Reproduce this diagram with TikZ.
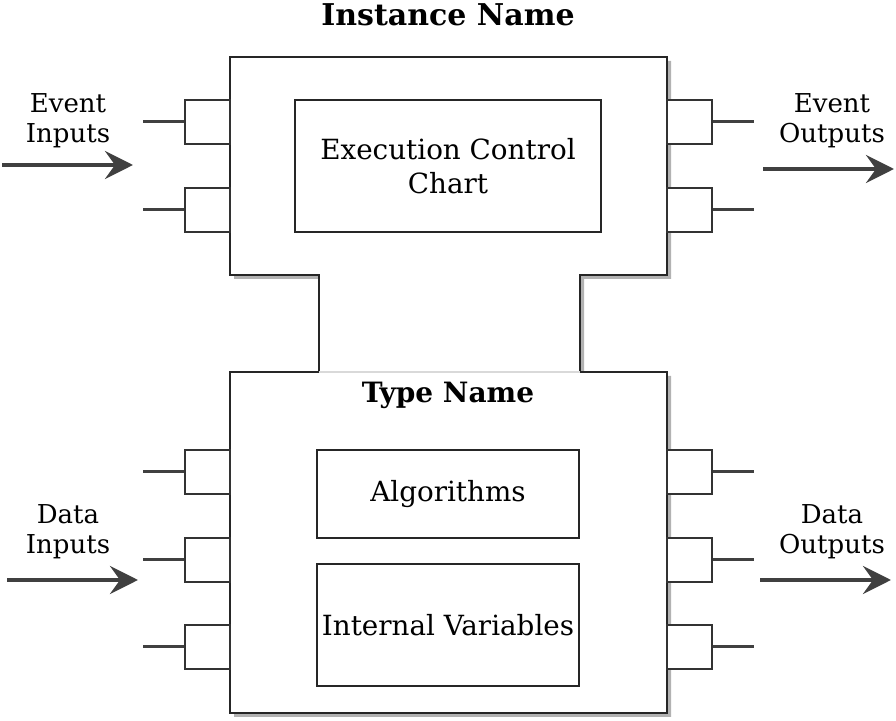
\documentclass[tikz,border=0pt]{standalone}
\usepackage{fontspec}
\setmainfont{DejaVu Serif}
\usetikzlibrary{arrows.meta}
\begin{document}
\begin{tikzpicture}
[x=0.5pt,y=-0.5pt,line join=miter,%
  box/.style={draw=black!85,line width=1.2pt,inner sep=0pt,align=center,font=\fontsize{13.9}{17}\selectfont},%
  port/.style={draw=black!80,line width=1.2pt,fill=white,minimum width=22.5pt,minimum height=22pt,inner sep=0pt},%
  stub/.style={draw=black!75,line width=1.5pt},%
  flow/.style={draw=black!75,line width=2pt,-{Stealth[length=14pt,width=14pt,inset=5pt]}},%
  lbl/.style={align=center,inner sep=0pt,font=\fontsize{13}{15}\selectfont}]
\useasboundingbox (0,0) rectangle (896,721);
% block outline with its shadow
\fill[black!30,shift={(4,4)}] (230,57) -- (667,57) -- (667,275) -- (580,275) -- (580,372) -- (667,372)
  -- (667,713) -- (230,713) -- (230,372) -- (319,372) -- (319,275) -- (230,275) -- cycle;
\draw[fill=white,draw=black!85,line width=1.2pt] (230,57) -- (667,57) -- (667,275) -- (580,275) -- (580,372) -- (667,372)
  -- (667,713) -- (230,713) -- (230,372) -- (319,372) -- (319,275) -- (230,275) -- cycle;
\draw[black!15,line width=0.6pt] (319,372) -- (580,372);
% titles
\node[font=\fontsize{15}{18}\selectfont\bfseries] (inst) at (448,15) {Instance Name};
\node[font=\fontsize{14}{17}\selectfont\bfseries] (type) at (448,395) {Type Name};
% inner boxes
\node[box,minimum width=153pt,minimum height=66pt] (ecc) at (448,166) {Execution Control\\Chart};
\node[box,minimum width=131pt,minimum height=44pt] (alg) at (448,494) {Algorithms};
\node[box,minimum width=131pt,minimum height=61pt] (vars) at (448,625) {Internal Variables};
% ports
\foreach \n/\y in {ei1/122,ei2/210,di1/472,di2/560,di3/647}{
  \node[port] (\n) at (207.5,\y) {};
  \coordinate (\n-end) at (143,\y);
  \draw[stub] (\n) -- (\n-end);
}
\foreach \n/\y in {eo1/122,eo2/210,do1/472,do2/560,do3/647}{
  \node[port] (\n) at (689.5,\y) {};
  \coordinate (\n-end) at (754,\y);
  \draw[stub] (\n) -- (\n-end);
}
% flow arrows
\node[lbl] (evin) at (68,121) {Event\\Inputs};
\node[lbl] (evout) at (832,121) {Event\\Outputs};
\node[lbl] (dain) at (68,532) {Data\\Inputs};
\node[lbl] (daout) at (832,532) {Data\\Outputs};
\coordinate (evin-a) at (2,165);   \coordinate (evin-b) at (133,165);
\coordinate (evout-a) at (763,169); \coordinate (evout-b) at (894,169);
\coordinate (dain-a) at (7,580);   \coordinate (dain-b) at (138,580);
\coordinate (daout-a) at (760,580); \coordinate (daout-b) at (891,580);
\draw[flow] (evin-a) -- (evin-b);
\draw[flow] (evout-a) -- (evout-b);
\draw[flow] (dain-a) -- (dain-b);
\draw[flow] (daout-a) -- (daout-b);
\end{tikzpicture}
\end{document}
